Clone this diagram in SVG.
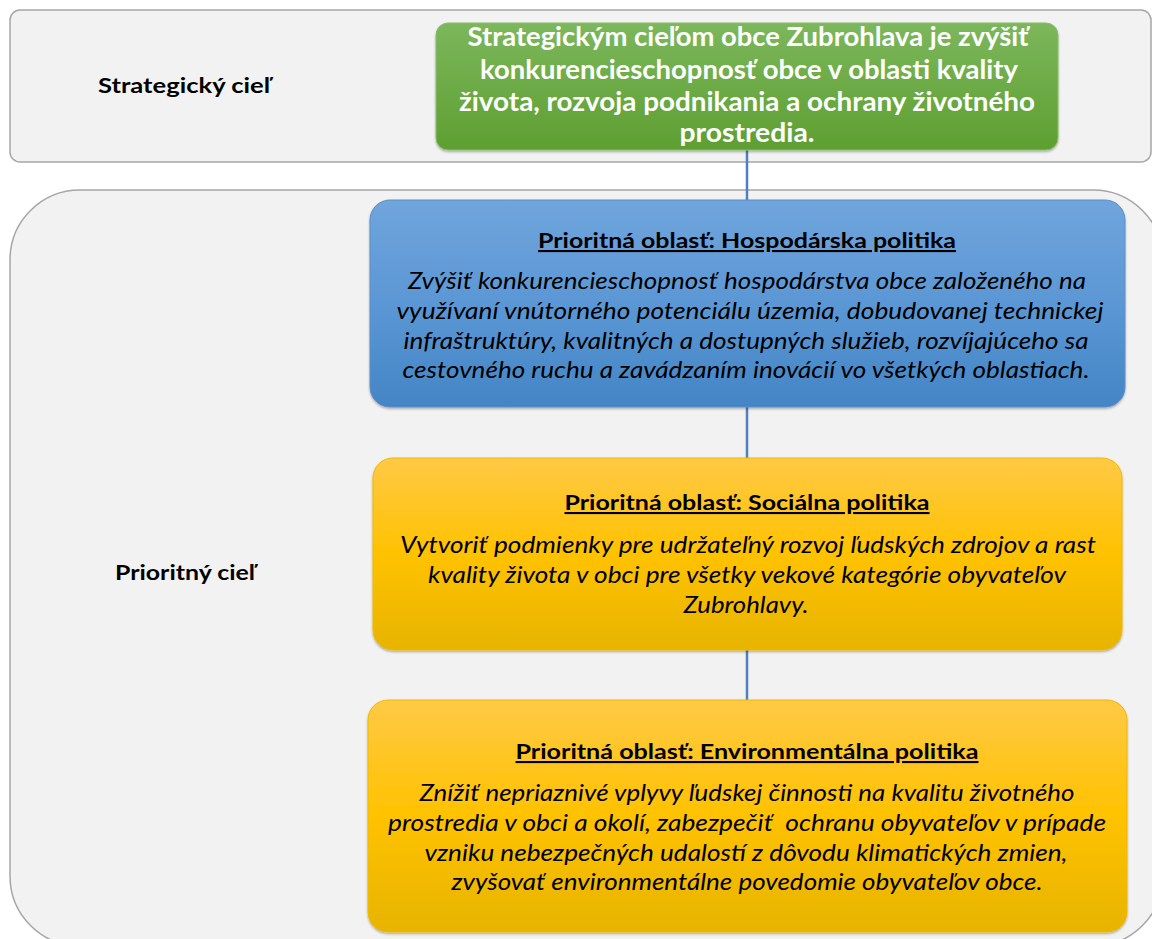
<svg xmlns="http://www.w3.org/2000/svg" width="1152" height="939" viewBox="0 0 1152 939">
  <defs>
    <linearGradient id="gGreen" x1="0" y1="0" x2="0" y2="1">
      <stop offset="0" stop-color="#7cb75c"/>
      <stop offset="1" stop-color="#5e9f31"/>
    </linearGradient>
    <linearGradient id="gBlue" x1="0" y1="0" x2="0" y2="1">
      <stop offset="0" stop-color="#70a5dc"/>
      <stop offset="0.5" stop-color="#5b97d5"/>
      <stop offset="1" stop-color="#4485c5"/>
    </linearGradient>
    <linearGradient id="gYellow" x1="0" y1="0" x2="0" y2="1">
      <stop offset="0" stop-color="#ffc946"/>
      <stop offset="0.5" stop-color="#ffc200"/>
      <stop offset="1" stop-color="#e7b400"/>
    </linearGradient>
    <filter id="shadow" x="-5%" y="-5%" width="110%" height="115%">
      <feDropShadow dx="0" dy="1.5" stdDeviation="1.2" flood-color="#000" flood-opacity="0.3"/>
    </filter>
    <style>
      .container { fill: #f2f2f2; stroke: #a6a6a6; stroke-width: 1.5; }
      .label { font-family: Lato, "Open Sans", "Noto Sans", sans-serif; font-weight: bold; font-size: 21px; fill: #000; text-anchor: middle; }
      .gtext { font-family: Lato, "Open Sans", "Noto Sans", sans-serif; font-weight: bold; font-size: 26px; fill: #ffffff; text-anchor: middle; }
      .title { font-family: Lato, "Open Sans", "Noto Sans", sans-serif; font-weight: bold; font-size: 21px; fill: #000; text-anchor: middle; text-decoration: underline; }
      .body { font-family: Lato, "Open Sans", "Noto Sans", sans-serif; font-style: italic; font-size: 23px; fill: #000; text-anchor: middle; }
      .conn { stroke: #4f81bd; stroke-width: 2.5; fill: none; }
      .box { filter: url(#shadow); }
    </style>
  </defs>

  <g id="container-strategic">
    <rect class="container" x="10" y="10" width="1141" height="152" rx="10"/>
    <text class="label" x="184" y="93" textLength="172" lengthAdjust="spacingAndGlyphs">Strategický cieľ</text>
  </g>

  <g id="container-priority">
    <rect class="container" x="10" y="190" width="1153" height="756" rx="70"/>
    <text class="label" x="185" y="580" textLength="140" lengthAdjust="spacingAndGlyphs">Prioritný cieľ</text>
  </g>

  <g id="connectors">
    <line class="conn" x1="747" y1="150" x2="747" y2="700"/>
  </g>

  <g id="node-strategic-goal">
    <rect class="box" x="436" y="23" width="622" height="127" rx="12" fill="url(#gGreen)" stroke="#88c06a" stroke-width="1"/>
    <text class="gtext" x="748" y="46" textLength="561" lengthAdjust="spacingAndGlyphs">Strategickým cieľom obce Zubrohlava je zvýšiť</text>
    <text class="gtext" x="749" y="79" textLength="538" lengthAdjust="spacingAndGlyphs">konkurencieschopnosť obce v oblasti kvality</text>
    <text class="gtext" x="747" y="111" textLength="576" lengthAdjust="spacingAndGlyphs">života, rozvoja podnikania a ochrany životného</text>
    <text class="gtext" x="747" y="142" textLength="135" lengthAdjust="spacingAndGlyphs">prostredia.</text>
  </g>

  <g id="node-economic">
    <rect class="box" x="370" y="200" width="755" height="207" rx="20" fill="url(#gBlue)" stroke="#5a8fca" stroke-width="1"/>
    <text class="title" x="747" y="248" textLength="418" lengthAdjust="spacingAndGlyphs">Prioritná oblasť: Hospodárska politika</text>
    <text class="body" x="747" y="289" textLength="678" lengthAdjust="spacingAndGlyphs">Zvýšiť konkurencieschopnosť hospodárstva obce založeného na</text>
    <text class="body" x="750" y="319" textLength="707" lengthAdjust="spacingAndGlyphs">využívaní vnútorného potenciálu územia, dobudovanej technickej</text>
    <text class="body" x="746" y="349" textLength="685" lengthAdjust="spacingAndGlyphs">infraštruktúry, kvalitných a dostupných služieb, rozvíjajúceho sa</text>
    <text class="body" x="746" y="378" textLength="687" lengthAdjust="spacingAndGlyphs">cestovného ruchu a zavádzaním inovácií vo všetkých oblastiach.</text>
  </g>

  <g id="node-social">
    <rect class="box" x="373" y="458" width="749" height="192" rx="20" fill="url(#gYellow)" stroke="#f2b900" stroke-width="1"/>
    <text class="title" x="747" y="510" textLength="365" lengthAdjust="spacingAndGlyphs">Prioritná oblasť: Sociálna politika</text>
    <text class="body" x="748" y="553" textLength="696" lengthAdjust="spacingAndGlyphs">Vytvoriť podmienky pre udržateľný rozvoj ľudských zdrojov a rast</text>
    <text class="body" x="747" y="583" textLength="638" lengthAdjust="spacingAndGlyphs">kvality života v obci pre všetky vekové kategórie obyvateľov</text>
    <text class="body" x="746" y="613" textLength="125" lengthAdjust="spacingAndGlyphs">Zubrohlavy.</text>
  </g>

  <g id="node-environment">
    <rect class="box" x="368" y="700" width="759" height="232" rx="20" fill="url(#gYellow)" stroke="#f2b900" stroke-width="1"/>
    <text class="title" x="747" y="759" textLength="463" lengthAdjust="spacingAndGlyphs">Prioritná oblasť: Environmentálna politika</text>
    <text class="body" x="747" y="801" textLength="655" lengthAdjust="spacingAndGlyphs">Znížiť nepriaznivé vplyvy ľudskej činnosti na kvalitu životného</text>
    <text class="body" x="747" y="831" textLength="718" lengthAdjust="spacingAndGlyphs" xml:space="preserve">prostredia v obci a okolí, zabezpečiť  ochranu obyvateľov v prípade</text>
    <text class="body" x="746" y="861" textLength="643" lengthAdjust="spacingAndGlyphs">vzniku nebezpečných udalostí z dôvodu klimatických zmien,</text>
    <text class="body" x="747" y="890" textLength="591" lengthAdjust="spacingAndGlyphs">zvyšovať environmentálne povedomie obyvateľov obce.</text>
  </g>
</svg>
